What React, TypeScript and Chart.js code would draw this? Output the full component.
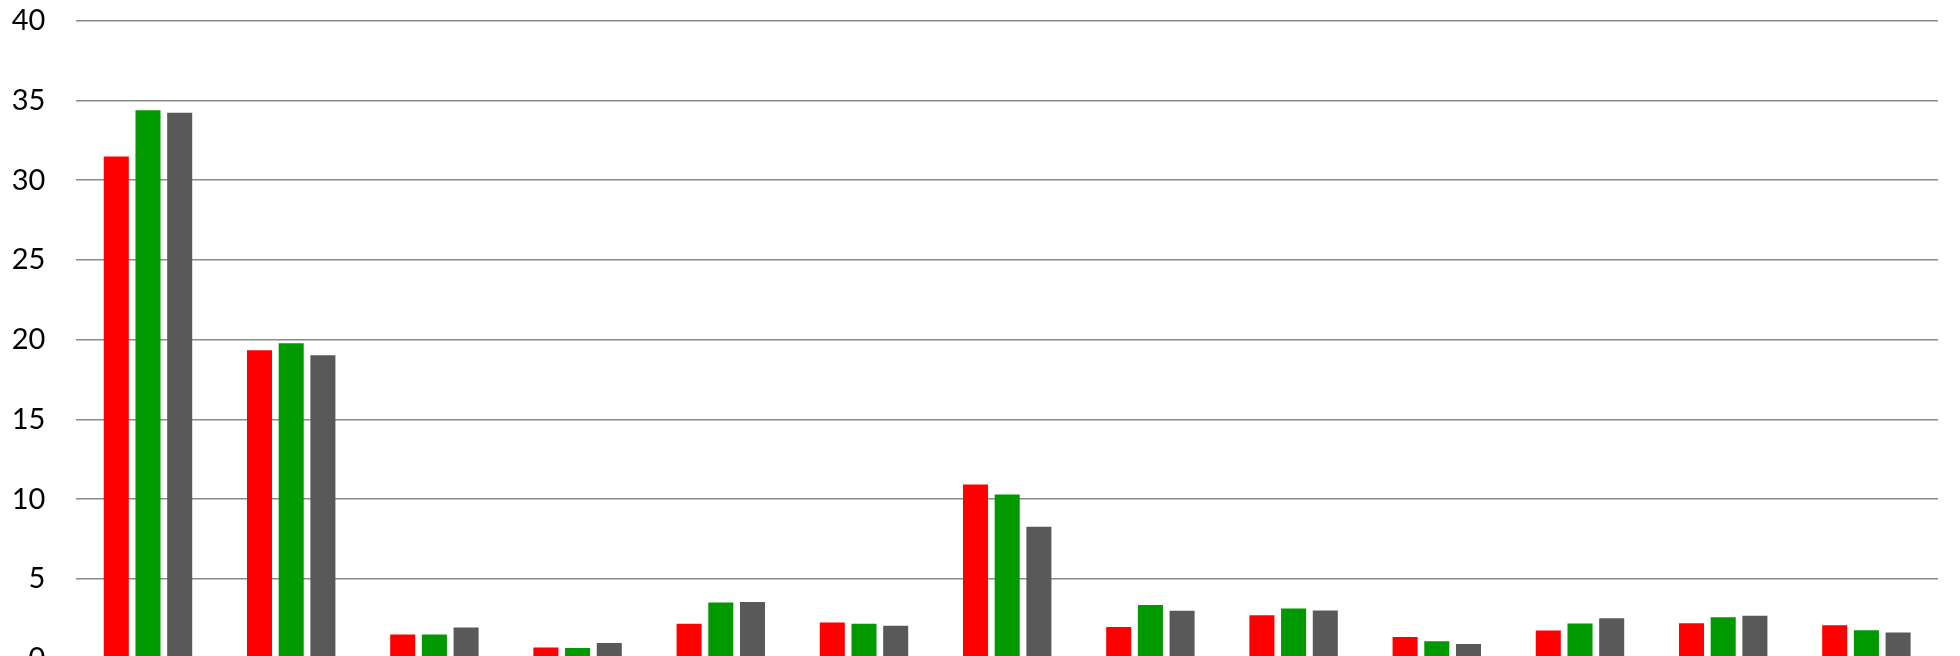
import React, { useEffect, useRef } from "react";
import { Chart, registerables } from "chart.js";

Chart.register(...registerables);

const categories = ["1", "2", "3", "4", "5", "6", "7", "8", "9", "10", "11", "12", "13"];
const redValues = [31.48, 19.34, 1.52, 0.71, 2.19, 2.27, 10.92, 1.98, 2.73, 1.36, 1.77, 2.23, 2.09];
const greenValues = [34.38, 19.77, 1.52, 0.67, 3.52, 2.19, 10.29, 3.36, 3.15, 1.09, 2.21, 2.6, 1.79];
const grayValues = [34.23, 19.02, 1.96, 0.98, 3.56, 2.06, 8.27, 3.0, 3.02, 0.92, 2.54, 2.69, 1.65];
const yMin = 0;
const yMax = 40;
const yStep = 5;

export default function App() {
  const ref = useRef<HTMLCanvasElement | null>(null);

  useEffect(() => {
    if (!ref.current) return;
    const chart = new Chart(ref.current, {
      type: "bar",
      data: {
        labels: categories,
        datasets: [
          { label: "Series 1", data: redValues, backgroundColor: "#FF0000" },
          { label: "Series 2", data: greenValues, backgroundColor: "#009900" },
          { label: "Series 3", data: grayValues, backgroundColor: "#595959" },
        ],
      },
      options: {
        animation: false,
        responsive: true,
        maintainAspectRatio: false,
        datasets: {
          bar: { categoryPercentage: 0.664, barPercentage: 0.79 },
        },
        layout: { padding: { top: 20.7, bottom: 41.3, left: 0, right: 22 } },
        plugins: { legend: { display: false }, tooltip: { enabled: false } },
        scales: {
          x: { display: false, grid: { display: false } },
          y: {
            min: yMin,
            max: yMax,
            border: { display: false },
            grid: {
              color: "#8a8a8a",
              lineWidth: 1.5,
              drawTicks: true,
              tickLength: 31,
              tickColor: "rgba(0,0,0,0)",
            },
            ticks: {
              stepSize: yStep,
              padding: 0,
              color: "#000000",
              font: { family: "Lato", size: 29 },
            },
            afterFit: (scale: any) => {
              scale.width = 76.4;
            },
          },
        },
      },
    });
    return () => chart.destroy();
  }, []);

  return (
    <div style={{ position: "absolute", left: 0, top: 0, width: 1960, height: 656, overflow: "hidden", background: "#fff" }}>
      <div style={{ position: "relative", width: 1960, height: 700 }}>
        <canvas ref={ref} />
      </div>
    </div>
  );
}
